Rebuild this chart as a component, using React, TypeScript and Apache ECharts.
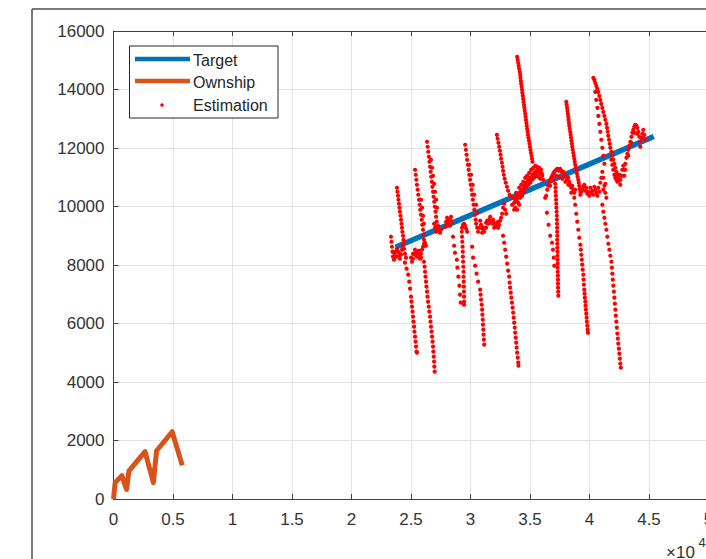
import React, { useEffect, useRef } from "react";
import * as echarts from "echarts";

const FONT = "'Liberation Sans', Arial, Helvetica, sans-serif";

// x values are in units of 10^4 (as the axis shows), y values in plain units
const xTickValues = [0, 0.5, 1, 1.5, 2, 2.5, 3, 3.5, 4, 4.5, 5];
const yTickValues = [0, 2000, 4000, 6000, 8000, 10000, 12000, 14000, 16000];

const targetTrack: number[][] = [[2.37, 8610], [4.54, 12390]];

const ownshipTrack: number[][] = [
  [0, 0], [0.014, 560], [0.07, 800], [0.11, 330], [0.13, 960], [0.265, 1620],
  [0.335, 560], [0.362, 1650], [0.493, 2300], [0.578, 1150],
];

const estStartCluster = [
  [2.332, 8967], [2.336, 8796], [2.340, 8625], [2.345, 8455], [2.349, 8284], [2.357, 8181], [2.365, 8318],
  [2.374, 8455], [2.382, 8557], [2.391, 8455], [2.399, 8318], [2.407, 8215], [2.416, 8352], [2.424, 8523],
  [2.433, 8660], [2.441, 8557], [2.449, 8386], [2.458, 8250], [2.357, 8420], [2.374, 8284], [2.407, 8386], [2.441, 8762],
];
const estPeak1 = [
  [2.382, 10641], [2.386, 10504], [2.391, 10368], [2.395, 10231], [2.399, 10094], [2.403, 9958], [2.407, 9821],
  [2.412, 9684], [2.416, 9548], [2.420, 9411], [2.424, 9274], [2.428, 9138], [2.433, 9001], [2.437, 8865],
];
const estDrop1 = [
  [2.449, 8079], [2.463, 7874], [2.477, 7669], [2.485, 7430], [2.492, 7191], [2.500, 6917], [2.504, 6747],
  [2.508, 6576], [2.513, 6405], [2.517, 6234], [2.521, 6064], [2.525, 5893], [2.529, 5722], [2.534, 5551],
  [2.538, 5380], [2.542, 5210], [2.546, 5039], [2.550, 5005],
];
const estPeak2 = [
  [2.534, 11256], [2.540, 11085], [2.545, 10914], [2.550, 10743], [2.556, 10573], [2.561, 10402], [2.567, 10231],
  [2.573, 10060], [2.578, 9889], [2.584, 9719], [2.590, 9548], [2.595, 9377], [2.601, 9206], [2.605, 9035],
  [2.609, 8865], [2.584, 10231], [2.593, 9958], [2.601, 9684], [2.609, 9411],
];
const estFloor2 = [
  [2.500, 8250], [2.508, 8113], [2.517, 8215], [2.525, 8386], [2.534, 8523], [2.542, 8386], [2.550, 8284],
  [2.559, 8386], [2.567, 8318], [2.576, 8215], [2.584, 8386], [2.593, 8523], [2.601, 8625], [2.609, 8728],
  [2.618, 8762], [2.626, 8660], [2.517, 8386], [2.534, 8352], [2.550, 8455], [2.567, 8489], [2.584, 8250],
];
const estDrop2 = [
  [2.609, 8113], [2.614, 7942], [2.618, 7771], [2.622, 7601], [2.626, 7430], [2.630, 7259], [2.635, 7088],
  [2.639, 6917], [2.643, 6747], [2.649, 6576], [2.654, 6405], [2.660, 6234], [2.664, 6064], [2.668, 5893],
  [2.673, 5722], [2.677, 5551], [2.681, 5380], [2.685, 5210], [2.688, 5039], [2.691, 4868], [2.694, 4697],
  [2.696, 4526], [2.699, 4355],
];
const estPeak3 = [
  [2.635, 12212], [2.640, 12042], [2.645, 11871], [2.650, 11700], [2.655, 11529], [2.660, 11358], [2.665, 11187],
  [2.670, 11017], [2.675, 10846], [2.680, 10675], [2.685, 10504], [2.690, 10333], [2.695, 10163], [2.701, 9992],
  [2.706, 9821], [2.711, 9650], [2.716, 9479],
  [2.668, 11597], [2.677, 11324], [2.685, 11051], [2.694, 10777], [2.702, 10504], [2.711, 10231], [2.719, 9958],
];
const estFloor3 = [
  [2.694, 9411], [2.702, 9274], [2.711, 9138], [2.719, 9240], [2.727, 9343], [2.736, 9206], [2.744, 9104],
  [2.752, 9206], [2.711, 9309], [2.727, 9172],
  [2.786, 9309], [2.795, 9479], [2.803, 9616], [2.811, 9514], [2.820, 9377], [2.828, 9548], [2.837, 9650],
  [2.845, 9479], [2.803, 9411], [2.828, 9343],
];
const estDrop3 = [
  [2.853, 8967], [2.862, 8660], [2.870, 8420], [2.885, 8181], [2.890, 7908], [2.898, 7601], [2.907, 7293],
  [2.912, 6986], [2.918, 6713],
  [2.929, 9274], [2.938, 9377], [2.946, 9411], [2.955, 9343], [2.963, 9240], [2.972, 9138],
  [2.927, 9138], [2.929, 8967], [2.931, 8796], [2.933, 8625], [2.935, 8455], [2.936, 8284], [2.938, 8113],
  [2.940, 7942], [2.942, 7771], [2.942, 7601], [2.943, 7430], [2.944, 7259], [2.945, 7088], [2.946, 6917],
  [2.946, 6747], [2.946, 6644],
];
const estPeak4 = [
  [2.955, 12110], [2.961, 11939], [2.967, 11768], [2.972, 11597], [2.978, 11427], [2.984, 11256], [2.990, 11085],
  [2.996, 10914], [3.002, 10743], [3.008, 10573], [3.014, 10402], [3.020, 10231], [3.026, 10060], [3.032, 9889],
  [3.037, 9719], [3.043, 9548],
  [2.988, 11427], [3.005, 11085], [3.018, 10743], [3.031, 10402], [3.047, 10060], [3.056, 9787],
];
const estFloor4 = [
  [3.047, 9411], [3.056, 9274], [3.064, 9138], [3.073, 9274], [3.081, 9514], [3.089, 9377], [3.098, 9240],
  [3.106, 9274], [3.115, 9138], [3.123, 9274], [3.131, 9445], [3.140, 9514], [3.148, 9411], [3.157, 9548],
  [3.165, 9650], [3.174, 9514], [3.182, 9411], [3.190, 9548], [3.199, 9445], [3.207, 9309], [3.216, 9411],
  [3.224, 9343], [3.232, 9479], [3.241, 9377], [3.249, 9514], [3.257, 9616], [3.266, 9753], [3.274, 9958],
  [3.283, 10094], [3.291, 9889], [3.300, 9753],
  [3.098, 9104], [3.131, 9274], [3.165, 9479], [3.199, 9274], [3.232, 9274],
];
const estDrop4 = [
  [3.014, 8625], [3.022, 8250], [3.039, 7976], [3.051, 7703], [3.064, 7430], [3.081, 7157], [3.085, 6986],
  [3.089, 6815], [3.094, 6644], [3.098, 6474], [3.100, 6303], [3.103, 6132], [3.105, 5961], [3.108, 5790],
  [3.110, 5620], [3.112, 5449], [3.115, 5278],
];
const estPeak5a = [
  [3.222, 12451], [3.228, 12315], [3.235, 12178], [3.241, 12042], [3.247, 11905], [3.253, 11768], [3.257, 11632],
  [3.264, 11495], [3.270, 11358], [3.274, 11222], [3.280, 11085], [3.287, 10948], [3.296, 10812], [3.306, 10675],
  [3.316, 10538], [3.329, 10402], [3.342, 10299],
];
const estFloor5 = [
  [3.350, 10060], [3.359, 10299], [3.367, 9889], [3.376, 10231], [3.384, 10470], [3.392, 10163], [3.401, 10402],
  [3.409, 10641], [3.418, 10504], [3.426, 10743], [3.434, 10573], [3.443, 10846], [3.451, 10709], [3.460, 10982],
  [3.468, 10812], [3.476, 11051], [3.485, 10914], [3.493, 11153], [3.502, 10982], [3.510, 11256], [3.519, 11085],
  [3.527, 11324], [3.536, 11153], [3.544, 11392], [3.552, 11222], [3.561, 11358], [3.569, 11187], [3.578, 11324],
  [3.586, 11119], [3.594, 11256], [3.603, 11051], [3.611, 10914],
  [3.367, 10128], [3.384, 10231], [3.401, 10128], [3.418, 10299], [3.434, 10368], [3.451, 10504], [3.468, 10641],
  [3.485, 10743], [3.502, 10812], [3.519, 10914], [3.536, 10982], [3.552, 11051], [3.569, 11017], [3.586, 10948],
  [3.376, 9958], [3.392, 9889], [3.409, 10060],
  [3.380, 10330], [3.397, 10290], [3.414, 10420], [3.430, 10520], [3.447, 10620], [3.464, 10760], [3.481, 10850],
  [3.497, 10900], [3.514, 11000], [3.531, 11060], [3.548, 11120], [3.565, 11270], [3.582, 11200], [3.599, 11130],
];
const estPeak5 = [
  [3.392, 15116], [3.397, 15013], [3.401, 14911], [3.405, 14808], [3.409, 14706], [3.414, 14603], [3.418, 14501],
  [3.420, 14398], [3.423, 14296], [3.426, 14194], [3.430, 14091], [3.433, 13989], [3.436, 13886], [3.440, 13784],
  [3.443, 13681], [3.446, 13579], [3.450, 13476], [3.453, 13374], [3.456, 13271], [3.460, 13169], [3.463, 13066],
  [3.466, 12964], [3.470, 12861], [3.473, 12759], [3.476, 12656], [3.480, 12554], [3.483, 12451], [3.487, 12349],
  [3.492, 12246], [3.496, 12144], [3.500, 12042], [3.504, 11939], [3.508, 11837], [3.513, 11734], [3.517, 11632],
  [3.521, 11529],
];
const estDrop5 = [
  [3.274, 9001], [3.283, 8762], [3.291, 8523], [3.300, 8284], [3.308, 8045], [3.316, 7806], [3.325, 7601],
  [3.329, 7396], [3.333, 7225], [3.338, 7054], [3.343, 6883], [3.348, 6713], [3.354, 6542], [3.359, 6371],
  [3.363, 6200], [3.367, 6029], [3.372, 5859], [3.376, 5688], [3.380, 5517], [3.384, 5346], [3.388, 5176],
  [3.392, 5005], [3.397, 4834], [3.401, 4663], [3.403, 4560],
];
const estDrop6 = [
  [3.628, 10299], [3.642, 9787], [3.656, 9377], [3.670, 9001], [3.685, 8762], [3.693, 8523], [3.700, 8250], [3.704, 7976],
  [3.712, 10777], [3.714, 10641], [3.715, 10504], [3.717, 10368], [3.719, 10231], [3.721, 10094], [3.722, 9958],
  [3.724, 9821], [3.725, 9684], [3.726, 9548], [3.727, 9411], [3.728, 9274], [3.728, 9138], [3.729, 9001],
  [3.729, 8865], [3.730, 8728], [3.730, 8591], [3.731, 8455], [3.731, 8318], [3.732, 8181], [3.732, 8045],
  [3.732, 7908], [3.733, 7771], [3.734, 7635], [3.735, 7498], [3.735, 7361], [3.736, 7225], [3.737, 7088], [3.738, 6952],
];
const estFloor6 = [
  [3.636, 10368], [3.645, 10573], [3.653, 10709], [3.662, 10846], [3.670, 10914], [3.678, 10982], [3.687, 11051],
  [3.695, 11119], [3.704, 11187], [3.712, 11222], [3.721, 11256], [3.729, 11290], [3.738, 11256], [3.746, 11222],
  [3.754, 11290], [3.763, 11222], [3.771, 11153], [3.780, 11187], [3.788, 11119], [3.797, 11051], [3.805, 10982],
  [3.813, 10914], [3.822, 10982], [3.830, 10846], [3.838, 10743], [3.847, 10641], [3.855, 10709], [3.864, 10573],
  [3.872, 10470], [3.880, 10573],
  [3.670, 10709], [3.695, 10914], [3.721, 11051], [3.746, 11017], [3.771, 10948], [3.797, 10846], [3.822, 10743],
  [3.847, 10470], [3.872, 10299],
];
const estPeak6 = [
  [3.805, 13579], [3.808, 13476], [3.812, 13374], [3.815, 13271], [3.818, 13169], [3.822, 13066], [3.824, 12964],
  [3.827, 12861], [3.830, 12759], [3.834, 12656], [3.838, 12554], [3.842, 12451], [3.845, 12349], [3.848, 12246],
  [3.852, 12144], [3.855, 12042], [3.859, 11939], [3.864, 11837], [3.868, 11734], [3.872, 11632], [3.876, 11529],
  [3.880, 11427], [3.885, 11324], [3.890, 11222], [3.895, 11119], [3.900, 11017], [3.906, 10914], [3.910, 10812],
  [3.914, 10709], [3.918, 10607], [3.923, 10504],
];
const estDrop7 = [
  [3.880, 10060], [3.889, 9753], [3.897, 9479], [3.906, 9206], [3.914, 8933], [3.923, 8694], [3.927, 8523],
  [3.931, 8352], [3.935, 8181], [3.939, 8011], [3.943, 7840], [3.948, 7669], [3.950, 7498], [3.953, 7327],
  [3.956, 7157], [3.959, 7020], [3.961, 6883], [3.965, 6747], [3.967, 6610], [3.970, 6474], [3.973, 6337],
  [3.976, 6200], [3.978, 6064], [3.982, 5927], [3.984, 5790], [3.987, 5688],
];
const estFloor7 = [
  [3.923, 10402], [3.939, 10573], [3.956, 10743], [3.973, 10641], [3.990, 10504], [4.007, 10641], [4.024, 10538],
  [4.041, 10675], [4.057, 10470], [4.074, 10641], [4.091, 10812], [4.099, 10982], [4.108, 11187], [4.116, 10982],
  [4.125, 10709], [4.133, 10470], [4.142, 10299],
  [3.931, 10504], [3.948, 10675], [3.965, 10538], [3.982, 10436], [3.998, 10368], [4.015, 10470], [4.032, 10402],
  [4.049, 10573], [4.066, 10368], [4.083, 10504], [4.116, 10573], [4.133, 10777],
];
const estPeak7 = [
  [4.032, 14398], [4.041, 14330], [4.049, 14228], [4.057, 14125], [4.066, 14023], [4.074, 13920], [4.083, 13784],
  [4.091, 13647], [4.099, 13510], [4.108, 13374], [4.116, 13237], [4.125, 13100], [4.133, 12964], [4.142, 12827],
  [4.148, 12690], [4.153, 12554], [4.158, 12417], [4.164, 12281], [4.170, 12144], [4.175, 12007], [4.184, 11871],
  [4.192, 11734], [4.200, 11597], [4.209, 11461], [4.217, 11324], [4.226, 11187],
  [4.049, 13920], [4.057, 13647], [4.066, 13374], [4.074, 13100], [4.083, 12827], [4.091, 12554], [4.099, 12281],
  [4.108, 12007], [4.116, 11734], [4.125, 11461],
];
const estDrop8 = [
  [4.108, 10060], [4.116, 9821], [4.125, 9616], [4.133, 9411], [4.142, 9206], [4.150, 8967], [4.158, 8728],
  [4.167, 8523], [4.175, 8318], [4.184, 8113], [4.188, 7908], [4.192, 7703], [4.196, 7498], [4.200, 7293],
  [4.205, 7088], [4.209, 6883], [4.213, 6678], [4.217, 6474], [4.221, 6269], [4.226, 6064], [4.230, 5859],
  [4.234, 5654], [4.238, 5483], [4.242, 5312], [4.247, 5141], [4.251, 4971], [4.255, 4800], [4.259, 4629], [4.263, 4492],
];
const estFloor8 = [
  [4.184, 11597], [4.192, 11427], [4.200, 11256], [4.209, 11085], [4.217, 10982], [4.226, 10914], [4.234, 10846],
  [4.242, 10982], [4.251, 11085], [4.259, 10914], [4.268, 11051], [4.276, 11256], [4.284, 11392], [4.293, 11256],
  [4.301, 11461], [4.310, 11666], [4.318, 11802], [4.326, 11939], [4.335, 12076], [4.343, 12212], [4.352, 12383],
  [4.360, 12520], [4.368, 12622], [4.377, 12725], [4.385, 12793], [4.394, 12759], [4.402, 12690], [4.410, 12554],
  [4.419, 12383], [4.427, 12212], [4.436, 12349], [4.444, 12486], [4.452, 12622], [4.461, 12451], [4.469, 12281],
  [4.226, 11085], [4.251, 10880], [4.276, 11051], [4.301, 11256], [4.326, 11734], [4.352, 12178], [4.377, 12520],
  [4.402, 12486], [4.427, 12042], [4.452, 12349], [4.259, 10743], [4.293, 11051],
];

const estimation = [
  ...estStartCluster, ...estPeak1, ...estDrop1, ...estPeak2, ...estFloor2, ...estDrop2,
  ...estPeak3, ...estFloor3, ...estDrop3, ...estPeak4, ...estFloor4, ...estDrop4,
  ...estPeak5a, ...estFloor5, ...estPeak5, ...estDrop5, ...estDrop6, ...estFloor6,
  ...estPeak6, ...estDrop7, ...estFloor7, ...estPeak7, ...estDrop8, ...estFloor8,
];

const legendNames = ["Target", "Ownship", "Estimation"];

const CHART_W = 740; // wider than the window so that x = 5 falls just past the right edge
const CHART_H = 559;

export default function App() {
  const ref = useRef<HTMLDivElement>(null);
  useEffect(() => {
    if (!ref.current) return;
    const chart = echarts.init(ref.current, null, { renderer: "svg" });
    const axisColor = "#404040";
    const gridColor = "#e3e3e3";
    const xMin = xTickValues[0];
    const xMax = xTickValues[xTickValues.length - 1];
    const yMin = yTickValues[0];
    const yMax = yTickValues[yTickValues.length - 1];
    chart.setOption({
      animation: false,
      backgroundColor: "#ffffff",
      textStyle: { fontFamily: FONT },
      grid: { left: 113.5, right: CHART_W - 708.5, top: 31, bottom: 60, containLabel: false },
      xAxis: [
        {
          type: "value", min: xMin, max: xMax, interval: 0.5, position: "bottom",
          axisLine: { show: true, onZero: false, lineStyle: { color: axisColor, width: 1 } },
          axisTick: { show: true, inside: true, length: 5, lineStyle: { color: axisColor } },
          axisLabel: { show: true, margin: 12, fontSize: 17, color: "#333333", fontFamily: FONT, formatter: (v: number) => String(v) },
          splitLine: { show: true, lineStyle: { color: gridColor, width: 1 } },
        },
        {
          type: "value", min: xMin, max: xMax, interval: 0.5, position: "top",
          axisLine: { show: true, onZero: false, lineStyle: { color: axisColor, width: 1 } },
          axisTick: { show: true, inside: true, length: 5, lineStyle: { color: axisColor } },
          axisLabel: { show: false },
          splitLine: { show: false },
        },
      ],
      yAxis: [
        {
          type: "value", min: yMin, max: yMax, interval: 2000,
          axisLine: { show: true, onZero: false, lineStyle: { color: axisColor, width: 1 } },
          axisTick: { show: true, inside: true, length: 5, lineStyle: { color: axisColor } },
          axisLabel: { show: true, margin: 9, fontSize: 17, color: "#333333", fontFamily: FONT, formatter: (v: number) => String(v) },
          splitLine: { show: true, lineStyle: { color: gridColor, width: 1 } },
        },
      ],
      series: [
        {
          type: "line", name: legendNames[0], data: targetTrack, symbol: "none", z: 2,
          lineStyle: { color: "#0072BD", width: 5.5, cap: "butt" },
        },
        {
          type: "line", name: legendNames[1], data: ownshipTrack, symbol: "none", z: 3,
          lineStyle: { color: "#D95319", width: 5, join: "round" },
        },
        {
          type: "scatter", name: legendNames[2], data: estimation, symbol: "circle", symbolSize: 4.2, z: 4,
          itemStyle: { color: "#FF0000", opacity: 1 },
        },
      ],
      graphic: [
        { type: "line", z: 100, shape: { x1: 32, y1: 9, x2: 706, y2: 9 }, style: { stroke: "#4d4d4d", lineWidth: 1.5 } },
        { type: "line", z: 100, shape: { x1: 32, y1: 9, x2: 32, y2: 559 }, style: { stroke: "#4d4d4d", lineWidth: 1.5 } },
        { type: "rect", z: 100, shape: { x: 129.5, y: 46, width: 148.5, height: 72 }, style: { fill: "#ffffff", stroke: "#262626", lineWidth: 1 } },
        { type: "line", z: 101, shape: { x1: 135, y1: 59, x2: 190, y2: 59 }, style: { stroke: "#0072BD", lineWidth: 4.5 } },
        { type: "line", z: 101, shape: { x1: 135, y1: 81, x2: 190, y2: 81 }, style: { stroke: "#D95319", lineWidth: 4.5 } },
        { type: "circle", z: 101, shape: { cx: 162, cy: 105, r: 1.8 }, style: { fill: "#FF0000" } },
        { type: "text", z: 101, x: 193, y: 60.5, style: { text: legendNames[0], fontSize: 16, fontFamily: FONT, fill: "#262626", verticalAlign: "middle" } },
        { type: "text", z: 101, x: 193, y: 82.5, style: { text: legendNames[1], fontSize: 16, fontFamily: FONT, fill: "#262626", verticalAlign: "middle" } },
        { type: "text", z: 101, x: 193, y: 105.5, style: { text: legendNames[2], fontSize: 16, fontFamily: FONT, fill: "#262626", verticalAlign: "middle" } },
        { type: "text", z: 101, x: 666, y: 552, style: { text: "×10", fontSize: 17, fontFamily: FONT, fill: "#333333", verticalAlign: "middle" } },
        { type: "text", z: 101, x: 698.5, y: 542, style: { text: "4", fontSize: 13, fontFamily: FONT, fill: "#333333", verticalAlign: "middle" } },
      ],
    });
    return () => chart.dispose();
  }, []);
  return (
    <div style={{ position: "absolute", left: 0, top: 0, width: 706, height: CHART_H, overflow: "hidden", background: "#ffffff" }}>
      <div ref={ref} style={{ width: CHART_W, height: CHART_H }} />
    </div>
  );
}
